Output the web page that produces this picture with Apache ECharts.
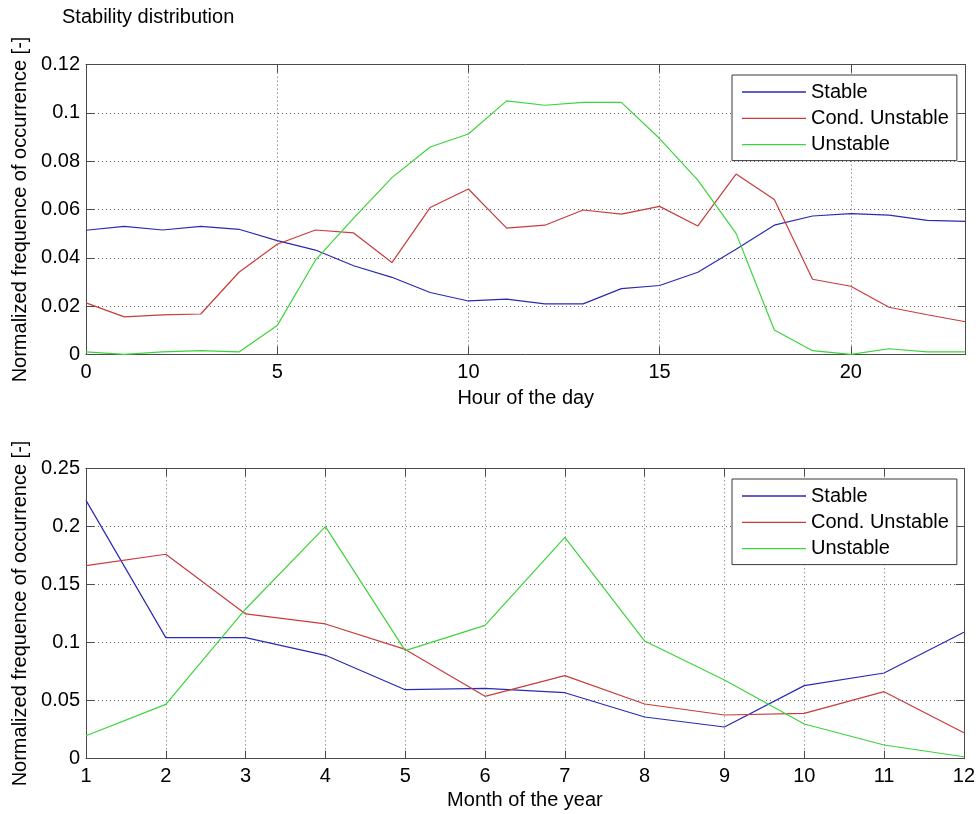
<!DOCTYPE html>
<html>
<head>
<meta charset="utf-8">
<script src="https://cdn.jsdelivr.net/npm/echarts@6/dist/echarts.min.js"></script>
<style>
html,body{margin:0;padding:0;background:#fff;}
#chart{width:978px;height:814px;}
</style>
</head>
<body>
<div id="chart"></div>
<script>
// ---- data ----
const titleText = 'Stability distribution';
const seriesNames = ['Stable', 'Cond. Unstable', 'Unstable'];

const hours = [0,1,2,3,4,5,6,7,8,9,10,11,12,13,14,15,16,17,18,19,20,21,22,23];
const hourStable = [0.0514,0.0530,0.0515,0.0530,0.0518,0.0471,0.0432,0.0367,0.0319,0.0256,0.0221,0.0229,0.0209,0.0209,0.0272,0.0285,0.0340,0.0435,0.0535,0.0573,0.0583,0.0577,0.0555,0.0551];
const hourCond   = [0.0213,0.0155,0.0163,0.0167,0.0340,0.0456,0.0515,0.0503,0.0380,0.0608,0.0685,0.0523,0.0535,0.0598,0.0581,0.0613,0.0532,0.0747,0.0641,0.0311,0.0282,0.0195,0.0164,0.0135];
const hourUnst   = [0.0010,0.0000,0.0010,0.0015,0.0010,0.0119,0.0390,0.0564,0.0732,0.0859,0.0913,0.1050,0.1032,0.1044,0.1044,0.0894,0.0722,0.0501,0.0101,0.0015,0.0000,0.0023,0.0010,0.0010];

const months = [1,2,3,4,5,6,7,8,9,10,11,12];
const monStable = [0.2224,0.1042,0.1042,0.0890,0.0594,0.0606,0.0568,0.0359,0.0273,0.0629,0.0738,0.1088];
const monCond   = [0.1662,0.1760,0.1246,0.1160,0.0941,0.0537,0.0715,0.0471,0.0376,0.0390,0.0577,0.0224];
const monUnst   = [0.0198,0.0468,0.1289,0.1998,0.0930,0.1148,0.1906,0.1013,0.0677,0.0299,0.0118,0.0017];

const xName1 = 'Hour of the day';
const xName2 = 'Month of the year';
const yName = 'Normalized frequence of occurrence [-]';

// ---- styling ----
const FONT = 'Liberation Sans, Arial, sans-serif';
const FS = 20;
const colors = ['#2a2ab4', '#c83c3c', '#3cd43c'];
const boxColor = '#4a4a4a';
const gridLine = { show: true, lineStyle: { color: '#6a6a6a', type: [1, 3], width: 1 } };

function pairs(xs, ys) { return xs.map((x, i) => [x, ys[i]]); }

function axLine() { return { show: true, onZero: false, lineStyle: { color: boxColor, width: 1 } }; }
function axTick() { return { show: true, inside: true, length: 8, lineStyle: { color: boxColor } }; }

function xAxes(gridIndex, min, max, interval, name, nameGap, margin, hideMax) {
  return [{
    type: 'value', gridIndex, min, max, interval, position: 'bottom',
    name, nameLocation: 'middle', nameGap,
    nameTextStyle: { fontFamily: FONT, fontSize: FS, color: '#000' },
    axisLine: axLine(), axisTick: axTick(),
    axisLabel: { fontFamily: FONT, fontSize: FS, color: '#000', margin, showMaxLabel: !hideMax, showMinLabel: true },
    splitLine: gridLine
  }, {
    type: 'value', gridIndex, min, max, interval, position: 'top',
    axisLine: axLine(), axisTick: axTick(),
    axisLabel: { show: false }, splitLine: { show: false }
  }];
}
function yAxes(gridIndex, min, max, interval) {
  return [{
    type: 'value', gridIndex, min, max, interval, position: 'left',
    name: yName, nameLocation: 'middle', nameGap: 54, nameRotate: 90,
    nameTextStyle: { fontFamily: FONT, fontSize: FS, color: '#000' },
    axisLine: axLine(), axisTick: axTick(),
    axisLabel: { fontFamily: FONT, fontSize: FS, color: '#000', margin: 6, showMinLabel: true, showMaxLabel: true },
    splitLine: gridLine
  }, {
    type: 'value', gridIndex, min, max, interval, position: 'right',
    axisLine: axLine(), axisTick: axTick(),
    axisLabel: { show: false }, splitLine: { show: false }
  }];
}
function legend(top) {
  return {
    orient: 'vertical', left: 732, top,
    backgroundColor: '#fff', borderColor: '#3a3a3a', borderWidth: 1, borderRadius: 0,
    padding: [7, 8, 6, 10],
    itemWidth: 64, itemHeight: 1.3, itemGap: 6.3,
    icon: 'rect',
    textStyle: { fontFamily: FONT, fontSize: FS, color: '#000', lineHeight: 20 },
    data: seriesNames
  };
}
function line(name, xi, yi, data, color) {
  return {
    type: 'line', name, xAxisIndex: xi, yAxisIndex: yi, data,
    symbol: 'none', smooth: false, animation: false,
    lineStyle: { color, width: 1.2 }, itemStyle: { color },
    emphasis: { disabled: true }
  };
}

const chart = echarts.init(document.getElementById('chart'), null, { renderer: 'canvas' });
chart.setOption({
  animation: false,
  backgroundColor: '#fff',
  title: { text: titleText, left: 62, top: 7, padding: 0,
    textStyle: { fontFamily: FONT, fontSize: FS, fontWeight: 'normal', color: '#000' } },
  grid: [
    { left: 86, right: 12.5, top: 64.7, height: 289.6, containLabel: false },
    { left: 86, right: 12.5, top: 468.3, height: 290.4, containLabel: false }
  ],
  legend: [ legend(75), legend(479) ],
  xAxis: [].concat(
    xAxes(0, 0, 23, 5, xName1, 34, 8, true),
    xAxes(1, 1, 12, 1, xName2, 32, 8, false)
  ),
  yAxis: [].concat(
    yAxes(0, 0, 0.12, 0.02),
    yAxes(1, 0, 0.25, 0.05)
  ),
  series: [
    line(seriesNames[0], 0, 0, pairs(hours, hourStable), colors[0]),
    line(seriesNames[1], 0, 0, pairs(hours, hourCond), colors[1]),
    line(seriesNames[2], 0, 0, pairs(hours, hourUnst), colors[2]),
    line(seriesNames[0], 2, 2, pairs(months, monStable), colors[0]),
    line(seriesNames[1], 2, 2, pairs(months, monCond), colors[1]),
    line(seriesNames[2], 2, 2, pairs(months, monUnst), colors[2])
  ]
});
</script>
</body>
</html>
